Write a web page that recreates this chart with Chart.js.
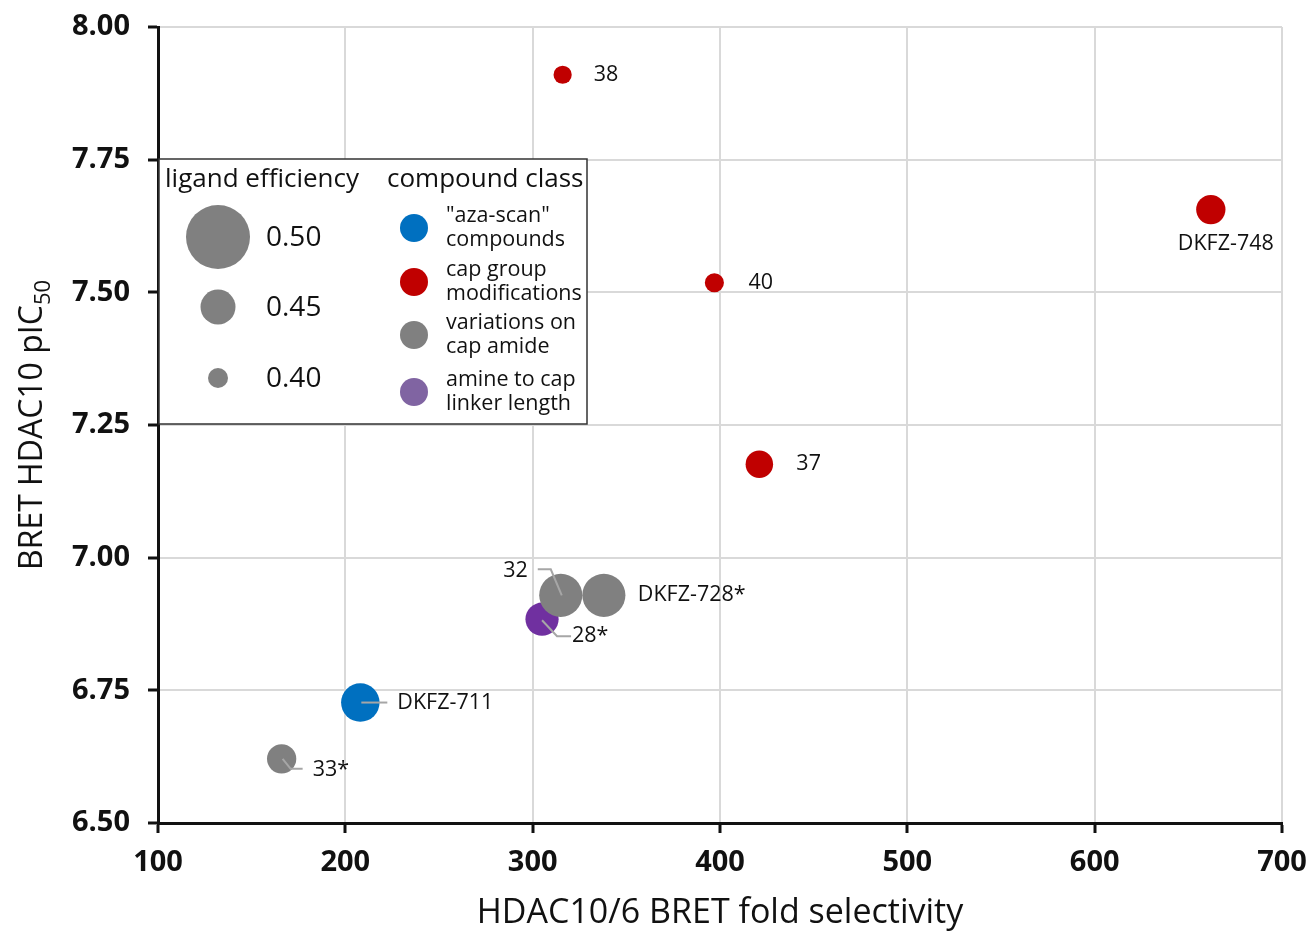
<!DOCTYPE html>
<html>
<head>
<meta charset="utf-8">
<script src="https://cdn.jsdelivr.net/npm/chart.js@4.4.0/dist/chart.umd.min.js"></script>
<style>
    html, body { margin: 0; padding: 0; background: #fff; }
    #wrap { width: 1309px; height: 933px; }
</style>
</head>
<body>
<div id="wrap"><canvas id="selectivityChart" width="1309" height="933"></canvas></div>
<script>
// data
var compounds     = ["38", "DKFZ-748", "40", "37", "32", "DKFZ-728*", "28*", "DKFZ-711", "33*"];
var selectivity   = [316, 662, 397, 421, 315, 338, 305, 208, 166];
var pIC50         = [7.91, 7.656, 7.518, 7.176, 6.929, 6.929, 6.884, 6.727, 6.621];
var ligandEff     = [0.394, 0.431, 0.397, 0.425, 0.464, 0.464, 0.444, 0.456, 0.431];
var compoundClass = [1, 1, 1, 1, 2, 2, 3, 0, 2];

var classNames  = [['"aza-scan"', 'compounds'], ['cap group', 'modifications'], ['variations on', 'cap amide'], ['amine to cap', 'linker length']];
var classColors = ['#0070C0', '#C00000', '#808080', '#7030A0'];
var legendColors = ['#0070C0', '#C00000', '#808080', '#8064A2'];
var leLegend    = [0.50, 0.45, 0.40];
var xTicks      = [100, 200, 300, 400, 500, 600, 700];
var yTicks      = [6.50, 6.75, 7.00, 7.25, 7.50, 7.75, 8.00];

var fontFamily = '"Open Sans", sans-serif';

// bubble radius (px) from ligand efficiency, matched to the size legend
function leRadius(le) {
    if (le <= 0.45) return 10 + (le - 0.40) / 0.05 * 7.5;
    return 17.5 + (le - 0.45) / 0.05 * 14.5;
}

// label placement per compound, relative to bubble centre
var labelPos = {
    "38":        { dx: 31, dy: 0 },
    "DKFZ-748":  { dx: 15, dy: 34, align: 'center' },
    "40":        { dx: 34, dy: 0 },
    "37":        { dx: 37, dy: 0 },
    "32":        { dx: -33, dy: -24, align: 'right', leader: [[1, 0], [-10, -26], [-23, -26]] },
    "DKFZ-728*": { dx: 34, dy: 0 },
    "28*":       { dx: 30, dy: 17, leader: [[0, 1], [15, 17], [29, 17]] },
    "DKFZ-711":  { dx: 37, dy: 0, leader: [[1, 0], [27, 0]] },
    "33*":       { dx: 31, dy: 11, leader: [[1, 0], [9, 10], [21, 10]] }
};

var datasets = classNames.map(function (name, c) {
    var pts = [];
    compounds.forEach(function (label, i) {
        if (compoundClass[i] === c) {
            pts.push({ x: selectivity[i], y: pIC50[i], r: leRadius(ligandEff[i]), label: label });
        }
    });
    return {
        label: name.join(' '),
        data: pts,
        backgroundColor: classColors[c],
        borderWidth: 0
    };
});

var annotations = {
    id: 'annotations',
    afterDatasetsDraw: function (chart) {
        var ctx = chart.ctx;
        ctx.save();
        chart.data.datasets.forEach(function (ds, di) {
            var meta = chart.getDatasetMeta(di);
            ds.data.forEach(function (pt, i) {
                var el = meta.data[i];
                var p = labelPos[pt.label];
                if (p.leader) {
                    ctx.strokeStyle = '#a6a6a6';
                    ctx.lineWidth = 2;
                    ctx.beginPath();
                    p.leader.forEach(function (q, k) {
                        if (k === 0) ctx.moveTo(el.x + q[0], el.y + q[1]);
                        else ctx.lineTo(el.x + q[0], el.y + q[1]);
                    });
                    ctx.stroke();
                }
                ctx.fillStyle = '#111';
                ctx.font = '21.5px ' + fontFamily;
                ctx.textAlign = p.align || 'left';
                ctx.textBaseline = 'middle';
                ctx.fillText(pt.label, el.x + p.dx, el.y + p.dy);
            });
        });
        ctx.restore();
    },
    afterDraw: function (chart) {
        var ctx = chart.ctx;
        var ca = chart.chartArea;
        ctx.save();

        // axis titles
        ctx.fillStyle = '#111';
        ctx.font = '34px ' + fontFamily;
        ctx.textAlign = 'center';
        ctx.textBaseline = 'middle';
        ctx.fillText('HDAC10/6 BRET fold selectivity', (ca.left + ca.right) / 2, 913);

        ctx.translate(42, (ca.top + ca.bottom) / 2);
        ctx.rotate(-Math.PI / 2);
        ctx.textBaseline = 'alphabetic';
        ctx.textAlign = 'left';
        var main = 'BRET HDAC10 pIC', sub = '50';
        ctx.font = '32px ' + fontFamily;
        var w1 = ctx.measureText(main).width;
        ctx.font = '22px ' + fontFamily;
        var w2 = ctx.measureText(sub).width;
        var x0 = -(w1 + w2) / 2;
        ctx.font = '32px ' + fontFamily;
        ctx.fillText(main, x0, 0);
        ctx.font = '22px ' + fontFamily;
        ctx.fillText(sub, x0 + w1, 8);
        ctx.restore();

        // legend box
        ctx.save();
        var bx = 159, by = 159, bw = 428, bh = 265;
        ctx.fillStyle = '#fff';
        ctx.fillRect(bx, by, bw, bh);
        ctx.strokeStyle = '#333';
        ctx.lineWidth = 1.5;
        ctx.strokeRect(bx, by, bw, bh);

        ctx.fillStyle = '#111';
        ctx.textAlign = 'left';
        ctx.textBaseline = 'alphabetic';
        ctx.font = '26px ' + fontFamily;
        ctx.fillText('ligand efficiency', 165, 187);
        ctx.fillText('compound class', 387, 187);

        var sizeY = [237, 307, 378];
        leLegend.forEach(function (le, i) {
            ctx.fillStyle = '#808080';
            ctx.beginPath();
            ctx.arc(218, sizeY[i], leRadius(le), 0, Math.PI * 2);
            ctx.fill();
            ctx.fillStyle = '#111';
            ctx.font = '28px ' + fontFamily;
            ctx.textBaseline = 'middle';
            ctx.fillText(le.toFixed(2), 266, sizeY[i] + 1);
        });

        var classY = [228, 282, 335, 392];
        classNames.forEach(function (name, i) {
            ctx.fillStyle = legendColors[i];
            ctx.beginPath();
            ctx.arc(414, classY[i], 14, 0, Math.PI * 2);
            ctx.fill();
            ctx.fillStyle = '#111';
            ctx.font = '21.5px ' + fontFamily;
            ctx.textBaseline = 'middle';
            ctx.fillText(name[0], 446, classY[i] - 12);
            ctx.fillText(name[1], 446, classY[i] + 12);
        });
        ctx.restore();
    }
};

var tickFont = { family: fontFamily, size: 29, weight: 'bold' };

new Chart(document.getElementById('selectivityChart').getContext('2d'), {
    type: 'bubble',
    data: { datasets: datasets },
    options: {
        responsive: false,
        animation: false,
        layout: { padding: { top: 27, right: 27, left: 0, bottom: 0 } },
        plugins: {
            legend: { display: false },
            tooltip: { enabled: false }
        },
        scales: {
            x: {
                type: 'linear',
                min: xTicks[0],
                max: xTicks[xTicks.length - 1],
                afterBuildTicks: function (scale) {
                    scale.ticks = xTicks.map(function (v) { return { value: v }; });
                },
                ticks: { font: tickFont, color: '#111', padding: 12 },
                grid: { color: '#d9d9d9', lineWidth: 2, tickColor: '#111', tickLength: 10, tickWidth: 3 },
                border: { color: '#111', width: 3 },
                afterFit: function (scale) {
                    scale.height = 110;
                    scale.paddingLeft = 0;
                    scale.paddingRight = 0;
                }
            },
            y: {
                type: 'linear',
                min: yTicks[0],
                max: yTicks[yTicks.length - 1],
                afterBuildTicks: function (scale) {
                    scale.ticks = yTicks.map(function (v) { return { value: v }; });
                },
                ticks: {
                    font: tickFont, color: '#111', padding: 18,
                    callback: function (v) { return v.toFixed(2); }
                },
                grid: { color: '#d9d9d9', lineWidth: 2, tickColor: '#111', tickLength: 10, tickWidth: 3 },
                border: { color: '#111', width: 3 },
                afterFit: function (scale) {
                    scale.width = 158;
                    scale.paddingTop = 0;
                    scale.paddingBottom = 0;
                }
            }
        }
    },
    plugins: [annotations]
});
</script>
</body>
</html>
